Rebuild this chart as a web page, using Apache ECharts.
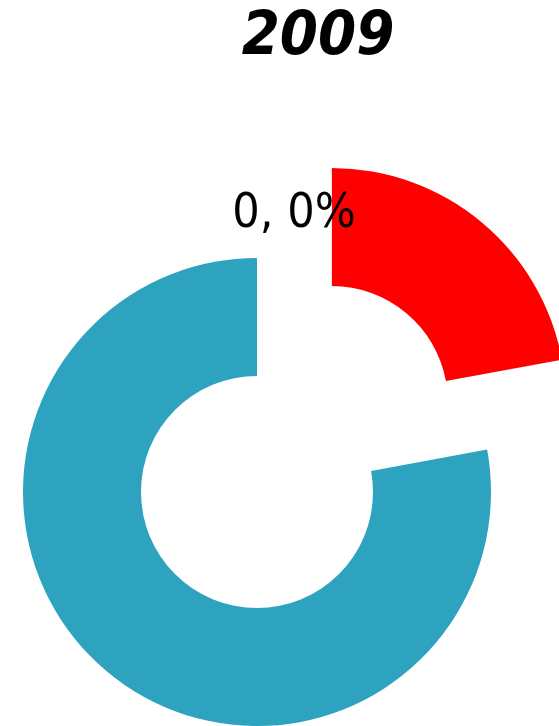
<!DOCTYPE html>
<html>
<head>
<meta charset="utf-8">
<script src="https://cdn.jsdelivr.net/npm/echarts@6/dist/echarts.min.js"></script>
<style>
    html, body {margin: 0; padding: 0; background: #fff;}
    #chart {width: 559px; height: 726px;}
</style>
</head>
<body>
<div id="chart"></div>
<script>
// 数据
var titleText = '2009';
var names = ['zero', 'red', 'blue'];
var values = [0, 22.1, 77.9];
var colors = ['#2ea3bf', '#ff0000', '#2ea3bf'];

var pieChart = echarts.init(document.getElementById('chart'));
var pieData = [];
for (var i = 0; i < names.length; i++) {
    var item = {
        name: names[i],
        value: values[i],
        itemStyle: {color: colors[i]},
        label: {show: false}
    };
    if (values[i] === 0) {
        //只显示0的标签
        item.label = {
            show: true,
            position: 'inside',
            formatter: '{c}, {d}%',
            fontFamily: 'DejaVu Sans Condensed',
            fontSize: 48,
            color: '#000',
            offset: [37, -99]
        };
    }
    if (names[i] === 'red') {
        item.selected = true;
    }
    pieData.push(item);
}
var option = {
    animation: false,
    title: {
        text: titleText,
        left: 318,
        top: 8,
        padding: 0,
        textAlign: 'center',
        textStyle: {
            fontFamily: 'DejaVu Sans Condensed',
            fontStyle: 'italic',
            fontWeight: 'bold',
            fontSize: 61,
            color: '#000'
        }
    },
    series: [{
        type: 'pie',
        center: [257, 492],
        radius: [116, 234],
        startAngle: 90,
        clockwise: true,
        selectedMode: 'single',
        selectedOffset: 117,
        avoidLabelOverlap: false,
        labelLine: {show: false},
        itemStyle: {borderWidth: 0},
        emphasis: {disabled: true},
        data: pieData
    }]
};
pieChart.setOption(option);
</script>
</body>
</html>
